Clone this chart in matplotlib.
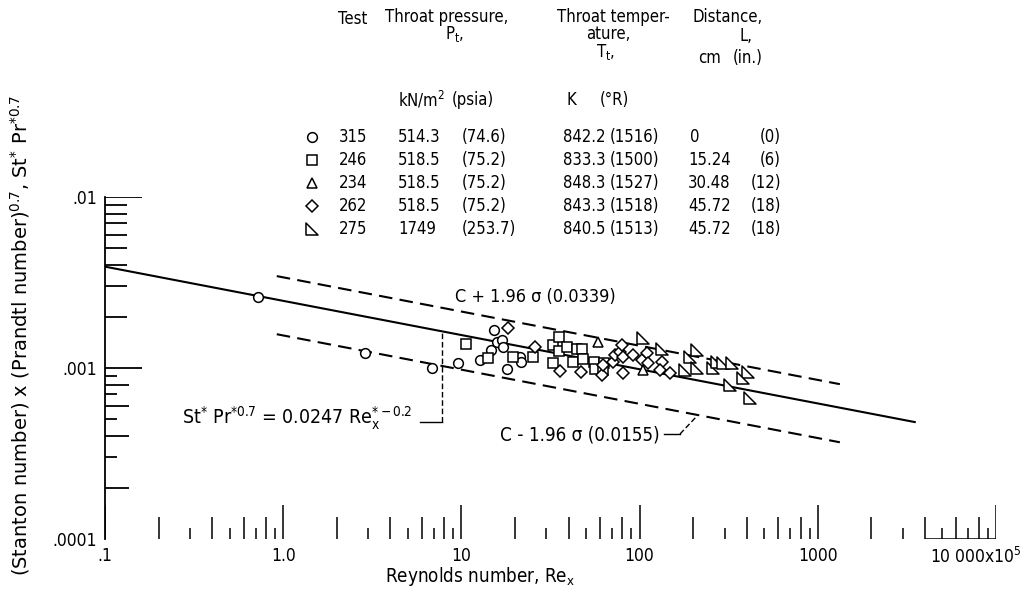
import numpy as np
import matplotlib
matplotlib.use("Agg")
import matplotlib.pyplot as plt
from matplotlib.path import Path
from matplotlib.transforms import blended_transform_factory

plt.rcParams['font.family'] = ['DejaVu Sans']
plt.rcParams['font.stretch'] = 'condensed'
plt.rcParams['mathtext.fontset'] = 'custom'
plt.rcParams['mathtext.rm'] = 'DejaVu Sans:stretch=condensed'
plt.rcParams['mathtext.it'] = 'DejaVu Sans:stretch=condensed'
plt.rcParams['mathtext.default'] = 'regular'

# Reynolds number (x10^5) and St* Pr*^0.7 for each test
re_315 = [0.722, 2.88, 6.84, 9.57, 12.7, 14.7, 15.2, 15.8, 16.9, 17.1, 18.0, 21.3, 21.6, 61.5]
st_315 = [0.00260, 0.001224, 0.00100, 0.00107, 0.001114, 0.001274, 0.001668, 0.00142,
          0.001459, 0.001327, 0.000986, 0.001159, 0.001084, 0.000935]

re_246 = [10.6, 14.1, 19.5, 25.2, 32.7, 32.7, 35.3, 35.3, 39.1, 42.3, 44.5, 47.5, 48.1,
          55.5, 56.2, 63.1, 62.3]
st_246 = [0.00138, 0.001144, 0.001159, 0.001159, 0.001364, 0.00107, 0.001518, 0.001257,
          0.001327, 0.001084, 0.001292, 0.001292, 0.00113, 0.001084, 0.000986, 0.00107,
          0.000973]

re_234 = [58.4, 104]
st_234 = [0.00142, 0.000973]

re_262 = [18.3, 25.9, 35.7, 46.9, 61.5, 62.3, 70.9, 72.8, 77.6, 79.7, 80.7, 80.7, 91.8,
          103, 110, 111, 134, 130, 148]
st_262 = [0.001714, 0.001327, 0.00096, 0.000948, 0.00091, 0.00104, 0.001084, 0.00119,
          0.00124, 0.001364, 0.001159, 0.000935, 0.00119, 0.001114, 0.001224, 0.00107,
          0.001084, 0.000973, 0.000935]

re_275 = [104, 134, 192, 210, 180, 210, 258, 272, 294, 330, 406, 380, 321, 417]
st_275 = [0.0015, 0.001292, 0.001159, 0.001274, 0.000973, 0.001, 0.001, 0.001084,
          0.00107, 0.00107, 0.000948, 0.000875, 0.000796, 0.000668]

# correlation St*Pr*^0.7 = C Re*^-0.2 (Re in units of 10^5)
c_fit = 0.0247
c_upper = 0.0339
c_lower = 0.0155
re_fit = [0.1, 3500]
re_band = [0.92, 1330]

legend_rows = [
    ('315', '514.3', '(74.6)', '842.2', '(1516)', '0', '(0)'),
    ('246', '518.5', '(75.2)', '833.3', '(1500)', '15.24', '(6)'),
    ('234', '518.5', '(75.2)', '848.3', '(1527)', '30.48', '(12)'),
    ('262', '518.5', '(75.2)', '843.3', '(1518)', '45.72', '(18)'),
    ('275', '1749', '(253.7)', '840.5', '(1513)', '45.72', '(18)'),
]

W, H = 1023, 595
fig = plt.figure(figsize=(W / 100, H / 100), dpi=100)
ax = fig.add_axes([105 / W, 1 - 539 / H, (996 - 105) / W, (539 - 197) / H])
ax.set_xscale('log')
ax.set_yscale('log')
ax.set_xlim(0.1, 1e4)
ax.set_ylim(1e-4, 1e-2)
for s in ['top', 'right', 'bottom']:
    ax.spines[s].set_visible(False)
ax.spines['left'].set_linewidth(1.3)
ax.minorticks_off()
ax.tick_params(length=0, labelsize=12.5, pad=6)


def stpr(c, re):
    re = np.asarray(re, dtype=float)
    return c * (re * 1e5) ** -0.2


ax.plot(re_fit, stpr(c_fit, re_fit), color='black', lw=1.5, zorder=2)
ax.plot(re_band, stpr(c_upper, re_band), color='black', lw=1.5, dashes=(6.5, 3.5), zorder=2)
ax.plot(re_band, stpr(c_lower, re_band), color='black', lw=1.5, dashes=(6.5, 3.5), zorder=2)

rtri = Path([(-1, 1), (-1, -1), (1, -1), (-1, 1)], closed=True)
mk = dict(ls='none', mfc='white', mec='black', mew=1.1, zorder=3)
ax.plot(re_315, st_315, marker='o', ms=7, **mk)
ax.plot(re_246, st_246, marker='s', ms=7, **mk)
ax.plot(re_234, st_234, marker='^', ms=7.5, **mk)
ax.plot(re_262, st_262, marker='D', ms=6, **mk)
ax.plot(re_275, st_275, marker=rtri, ms=8, **mk)

# hand-drawn style ticks
bx = blended_transform_factory(ax.transData, ax.transAxes)
by = blended_transform_factory(ax.transAxes, ax.transData)
ph = 342.0
pw = 891.0
for d in range(-1, 5):
    ax.vlines(10.0 ** d, 0, 34 / ph, transform=bx, color='black', lw=1.1)
    if d < 4:
        for m in range(2, 10):
            L = 22 if m % 2 == 0 else 11
            ax.vlines(m * 10.0 ** d, 0, L / ph, transform=bx, color='black', lw=1.1)
ax.hlines(0, 4000, 1e4, transform=bx, color='black', lw=1.1)
for d in (-2, -3):
    ax.hlines(10.0 ** d, 0, 37 / pw, transform=by, color='black', lw=1.3)
for m in range(2, 10):
    ax.hlines(m * 1e-3, 0, 22 / pw, transform=by, color='black', lw=1.3)
    L = 24 if m % 2 == 0 else 12
    ax.hlines(m * 1e-4, 0, L / pw, transform=by, color='black', lw=1.3)

ax.set_xticks([0.1, 1, 10, 100, 1000], ['.1', '1.0', '10', '100', '1000'])
ax.set_yticks([1e-4, 1e-3, 1e-2], ['.0001', '.001', '.01'])
ax.annotate('10 000x10$^5$', xy=(1e4, 0), xycoords=bx, xytext=(26, -8),
            textcoords='offset pixels', ha='right', va='top', fontsize=12.5)


def ftext(x, y, s, **kw):
    kw.setdefault('fontsize', 12)
    kw.setdefault('va', 'center')
    fig.text(x / W, 1 - y / H, s, **kw)


ftext(480, 576, 'Reynolds number, Re$_x$', ha='center', fontsize=13.5)
ftext(20, 336, '(Stanton number) x (Prandtl number)$^{0.7}$, St$^{*}$ Pr$^{*0.7}$',
      ha='center', rotation=90, fontsize=14, fontstretch='normal')

# fit and band labels
ftext(455, 297, 'C + 1.96 σ (0.0339)', ha='left', fontsize=13)
ftext(500, 435, 'C - 1.96 σ (0.0155)', ha='left', fontsize=13.5)
ftext(412, 418, 'St$^{*}$ Pr$^{*0.7}$ = 0.0247 Re$_x^{*-0.2}$', ha='right', fontsize=14)
fig.add_artist(plt.Line2D([420 / W, 442 / W], [1 - 422 / H, 1 - 422 / H], color='black', lw=1.0))
fig.add_artist(plt.Line2D([442 / W, 442 / W], [1 - 422 / H, 1 - 332 / H], color='black',
                          lw=1.0, dashes=(4, 2)))
fig.add_artist(plt.Line2D([664 / W, 680 / W], [1 - 434 / H, 1 - 434 / H], color='black', lw=1.0))
fig.add_artist(plt.Line2D([680 / W, 697 / W], [1 - 434 / H, 1 - 416 / H], color='black',
                          lw=1.0, dashes=(4, 2)))

# legend table
ftext(353, 19, 'Test', ha='center')
ftext(447, 17, 'Throat pressure,', ha='center')
ftext(455, 34, 'P$_t$,', ha='center')
ftext(613, 17, 'Throat temper-', ha='center')
ftext(608, 34, 'ature,', ha='center')
ftext(606, 52, 'T$_t$,', ha='center')
ftext(728, 17, 'Distance,', ha='center')
ftext(746, 36, 'L,', ha='center')
ftext(698, 58, 'cm', ha='left')
ftext(733, 58, '(in.)', ha='left')
ftext(398, 100, 'kN/m$^2$', ha='left')
ftext(452, 100, '(psia)', ha='left')
ftext(566, 100, 'K', ha='left')
ftext(600, 100, '(°R)', ha='left')

leg_markers = ['o', 's', '^', 'D', rtri]
leg_sizes = [7, 7, 7.5, 6, 8]
for i, row in enumerate(legend_rows):
    y = 137 + i * 23
    fig.add_artist(plt.Line2D([312 / W], [1 - y / H], marker=leg_markers[i], ms=leg_sizes[i],
                              mfc='white', mec='black', mew=1.1, ls='none'))
    ftext(353, y, row[0], ha='center')
    ftext(398, y, row[1], ha='left')
    ftext(462, y, row[2], ha='left')
    ftext(563, y, row[3], ha='left')
    ftext(610, y, row[4], ha='left')
    ftext(688 if row[5] != '0' else 690, y, row[5], ha='left')
    ftext(781, y, row[6], ha='right')

fig.savefig('out.png', dpi=100)
